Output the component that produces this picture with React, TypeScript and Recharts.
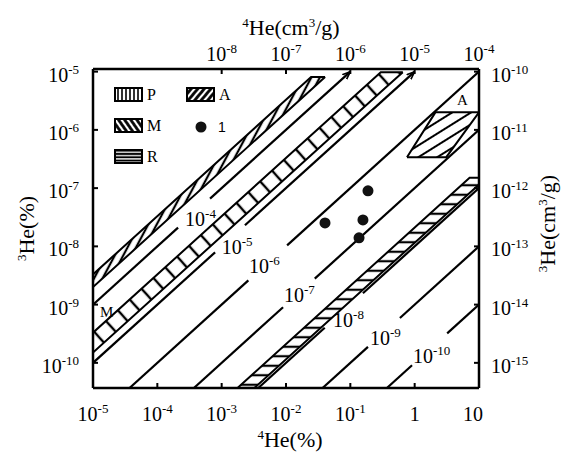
import React from 'react';
import { ComposedChart, XAxis, YAxis, Line, Area, Scatter, Legend } from 'recharts';

const SERIF = "'Liberation Serif', 'Times New Roman', serif";
const SANS = "'Liberation Sans', Arial, sans-serif";

// bottom / left axes: 4He(%) and 3He(%)
const he4Ticks = [1e-5, 1e-4, 1e-3, 1e-2, 1e-1, 1, 10];
const he3Ticks = [1e-10, 1e-9, 1e-8, 1e-7, 1e-6, 1e-5];
const he4Domain = [1e-5, 10];
const he3Domain = [3.7e-11, 1.11e-5];
// top / right axes: same scales in cm3/g
const he4CcTicks = [1e-8, 1e-7, 1e-6, 1e-5, 1e-4];
const he3CcTicks = [1e-15, 1e-14, 1e-13, 1e-12, 1e-11, 1e-10];
const he4CcDomain = [1e-10, 1e-4];
const he3CcDomain = [3.7e-16, 1.11e-10];

// 3He/4He iso-ratio lines, broken where the label sits
const ratios = [1e-4, 1e-5, 1e-6, 1e-7, 1e-8, 1e-9, 1e-10];
const lineStart = [1e-5, 1e-5, 3.7e-5, 3.7e-4, 3.7e-3, 3.7e-2, 0.37];
const gapFrom = [2.1e-4, 7.9e-4, 2.6e-3, 9e-3, 0.04, 0.188, 0.91];
const gapTo = [6.6e-4, 2.3e-3, 0.0104, 0.028, 0.157, 0.59, 3.2];
const lineEnd = [0.1, 1, 10, 10, 10, 10, 10];
const labelX = [2.7e-4, 1.0e-3, 2.66e-3, 9.3e-3, 0.054, 0.202, 0.94];
const labelY = [2.25e-8, 7.4e-9, 3.5e-9, 1.11e-9, 4.15e-10, 2.04e-10, 1e-10];

// hatched fields (ratio limits and where they are cut off)
const bandP = { lo: 2.0e-4, hi: 3.3e-4, cut: 8.1e-6 };
const bandM = { lo: 1.5e-5, hi: 3.3e-5, cut: 9.8e-6 };
const bandR = { lo: 1.15e-8, hi: 2.1e-8, cut: 1.5e-7 };
const fieldAX = [0.76, 2.1, 3.1, 10];
const fieldALow = [3.4e-7, 3.4e-7, 3.4e-7, 2.0e-6];
const fieldAHigh = [3.4e-7, 2.0e-6, 2.0e-6, 2.0e-6];

// samples (1)
const sampleHe4 = [0.0404, 0.1365, 0.157, 0.188];
const sampleHe3 = [2.53e-8, 1.4e-8, 2.85e-8, 8.97e-8];

const fieldNames = ['M', 'A'];
const fieldNameX = [1.28e-5, 4.55];
const fieldNameY = [6.2e-10, 2.69e-6];

const isoLines = ratios.map((r, i) => ({
  exp: Math.round(Math.log10(r)),
  a: [{ x: lineStart[i], y: r * lineStart[i] }, { x: gapFrom[i], y: r * gapFrom[i] }],
  b: [{ x: gapTo[i], y: r * gapTo[i] }, { x: lineEnd[i], y: r * lineEnd[i] }],
}));
const isoLabels = ratios.map((r, i) => ({ x: labelX[i], y: labelY[i], exp: Math.round(Math.log10(r)) }));

function upperBand(b: any, x0: number) {
  const x1 = b.cut / b.hi;
  const x2 = b.cut / b.lo;
  return [
    { x: x0, r: [b.lo * x0, b.hi * x0] },
    { x: x1, r: [b.lo * x1, b.cut] },
    { x: x2, r: [b.cut, b.cut] },
  ];
}
const pData = upperBand(bandP, he4Domain[0]);
const mData = upperBand(bandM, he4Domain[0]);
const y0 = he3Domain[0];
const xMax = he4Domain[1];
const rData = [
  { x: y0 / bandR.hi, r: [y0, y0] },
  { x: y0 / bandR.lo, r: [y0, (bandR.hi * y0) / bandR.lo] },
  { x: bandR.cut / bandR.hi, r: [(bandR.lo * bandR.cut) / bandR.hi, bandR.cut] },
  { x: xMax, r: [bandR.lo * xMax, bandR.cut] },
];
const aData = fieldAX.map((x, i) => ({ x, r: [fieldALow[i], fieldAHigh[i]] }));
const samples = sampleHe4.map((x, i) => ({ x, y: sampleHe3[i] }));
const fieldLabels = fieldNames.map((t, i) => ({ x: fieldNameX[i], y: fieldNameY[i], t }));

function powerLabel(v: number) {
  const e = Math.round(Math.log10(v));
  if (e >= 0) return String(Math.round(v));
  return [
    <tspan key="b">10</tspan>,
    <tspan key="e" dy={-8} fontSize={13}>{e}</tspan>,
  ];
}

const BottomTick = (p: any) => {
  const last = p.payload.value >= 10;
  return (
    <g>
      <line x1={p.x} y1={p.y} x2={p.x} y2={p.y - 5} stroke="#000" strokeWidth={2} />
      <text x={last ? p.x - 6 : p.x} y={p.y + 33} textAnchor="middle" fontFamily={SERIF} fontSize={20} fill="#000">
        {powerLabel(p.payload.value)}
      </text>
    </g>
  );
};
const TopTick = (p: any) => (
  <g>
    <line x1={p.x} y1={p.y} x2={p.x} y2={p.y + 5} stroke="#000" strokeWidth={2} />
    <text x={p.x} y={p.y - 8} textAnchor="middle" fontFamily={SERIF} fontSize={20} fill="#000">
      {powerLabel(p.payload.value)}
    </text>
  </g>
);
const LeftTick = (p: any) => (
  <g>
    <line x1={p.x} y1={p.y} x2={p.x + 5} y2={p.y} stroke="#000" strokeWidth={2} />
    <text x={p.x - 14} y={p.y + 10} textAnchor="end" fontFamily={SERIF} fontSize={20} fill="#000">
      {powerLabel(p.payload.value)}
    </text>
  </g>
);
const RightTick = (p: any) => (
  <g>
    <line x1={p.x} y1={p.y} x2={p.x - 5} y2={p.y} stroke="#000" strokeWidth={2} />
    <text x={p.x + 12} y={p.y + 10} textAnchor="start" fontFamily={SERIF} fontSize={20} fill="#000">
      {powerLabel(p.payload.value)}
    </text>
  </g>
);

const TITLE = 22;
const sup = (s: string) => [
  <tspan key={'s' + s} dy={-8} fontSize={13}>{s}</tspan>,
];

const bottomTitle = (p: any) => {
  const vb = p.viewBox;
  return (
    <text x={vb.x + vb.width / 2 + 4} y={vb.y + 59} textAnchor="middle" fontFamily={SERIF} fontSize={TITLE} fill="#000">
      {sup('4')}
      <tspan dy={8}>He(%)</tspan>
    </text>
  );
};
const topTitle = (p: any) => {
  const vb = p.viewBox;
  return (
    <text x={vb.x + vb.width / 2 + 5} y={vb.y + vb.height - 34} textAnchor="middle" fontFamily={SERIF} fontSize={TITLE} fill="#000">
      {sup('4')}
      <tspan dy={8}>He(cm</tspan>
      <tspan dy={-8} fontSize={13}>3</tspan>
      <tspan dy={8}>/g)</tspan>
    </text>
  );
};
const leftTitle = (p: any) => {
  const vb = p.viewBox;
  const cx = vb.x + vb.width - 59;
  const cy = vb.y + vb.height / 2;
  return (
    <text x={cx} y={cy} transform={`rotate(-90, ${cx}, ${cy})`} textAnchor="middle" fontFamily={SERIF} fontSize={TITLE} fill="#000">
      {sup('3')}
      <tspan dy={8}>He(%)</tspan>
    </text>
  );
};
const rightTitle = (p: any) => {
  const vb = p.viewBox;
  const cx = vb.x + 76;
  const cy = vb.y + vb.height / 2 - 5;
  return (
    <text x={cx} y={cy} transform={`rotate(-90, ${cx}, ${cy})`} textAnchor="middle" fontFamily={SERIF} fontSize={TITLE} fill="#000">
      {sup('3')}
      <tspan dy={8}>He(cm</tspan>
      <tspan dy={-8} fontSize={13}>3</tspan>
      <tspan dy={8}>/g)</tspan>
    </text>
  );
};

const IsoLabel = (p: any) => (
  <text x={p.cx} y={p.cy} fontFamily={SERIF} fontSize={20} fill="#000">
    10<tspan dy={-8} fontSize={13}>{p.payload.exp}</tspan>
  </text>
);
const FieldLabel = (p: any) => (
  <text x={p.cx} y={p.cy} fontFamily={SERIF} fontSize={15} fill="#000">
    {p.payload.t}
  </text>
);
const SampleDot = (p: any) => <circle cx={p.cx} cy={p.cy} r={5.5} fill="#111" />;

const legendSwatches = [
  { name: 'P', fill: 'url(#legP)', x: 7, y: 5 },
  { name: 'M', fill: 'url(#legM)', x: 7, y: 36 },
  { name: 'R', fill: 'url(#legR)', x: 7, y: 67 },
  { name: 'A', fill: 'url(#legA)', x: 79, y: 5 },
];

const LegendBox = () => (
  <svg width={140} height={90} style={{ display: 'block' }}>
    {legendSwatches.map((s) => (
      <g key={s.name}>
        <rect x={s.x} y={s.y} width={27} height={13} fill="#fff" />
        <rect x={s.x} y={s.y} width={27} height={13} fill={s.fill} stroke="#000" strokeWidth={2} />
        <text x={s.x + 32} y={s.y + 12} fontFamily={SERIF} fontSize={16} fill="#000">{s.name}</text>
      </g>
    ))}
    <circle cx={93} cy={44} r={5.5} fill="#111" />
    <text x={110} y={49} fontFamily={SANS} fontSize={14} fill="#000">1</text>
  </svg>
);

const hatch = (id: string, gap: number, angle: number, w: number) => (
  <pattern id={id} width={gap} height={gap} patternUnits="userSpaceOnUse" patternTransform={`rotate(${angle})`}>
    <line x1={gap / 2} y1={0} x2={gap / 2} y2={gap} stroke="#000" strokeWidth={w} />
  </pattern>
);

const frame = { stroke: '#000', strokeWidth: 2.5 };

export default function App() {
  return (
    <div style={{ position: 'absolute', left: 0, top: 0, background: '#fff' }}>
      <svg width={0} height={0} style={{ position: 'absolute' }}>
        <defs>
          {hatch('patP', 7.5, 28, 2.2)}
          {hatch('patM', 16, -42, 2.4)}
          {hatch('patR', 9.5, 90, 2.2)}
          {hatch('patA', 10, 58, 2)}
          {hatch('legP', 4, 0, 1.6)}
          {hatch('legM', 5, -35, 2.8)}
          {hatch('legR', 3.3, 90, 2)}
          {hatch('legA', 5, 40, 2.8)}
          <marker id="arrowHead" viewBox="0 0 10 10" refX="10" refY="5" markerWidth="8" markerHeight="8" markerUnits="userSpaceOnUse" orient="auto">
            <path d="M0,1 L10,5 L0,9" fill="none" stroke="#000" strokeWidth="2" />
          </marker>
        </defs>
      </svg>
      <ComposedChart width={562} height={453} data={samples} margin={{ top: 68, right: 82, bottom: 64, left: 92 }}>
        <XAxis xAxisId="b" dataKey="x" type="number" scale="log" domain={he4Domain} allowDataOverflow
          ticks={he4Ticks} interval={0} height={1} tickLine={false} tickSize={0} tickMargin={0}
          axisLine={frame} tick={BottomTick} label={bottomTitle} />
        <XAxis xAxisId="t" dataKey="x" orientation="top" type="number" scale="log" domain={he4CcDomain} allowDataOverflow
          ticks={he4CcTicks} interval={0} height={1} tickLine={false} tickSize={0} tickMargin={0}
          axisLine={frame} tick={TopTick} label={topTitle} />
        <YAxis yAxisId="l" dataKey="y" type="number" scale="log" domain={he3Domain} allowDataOverflow
          ticks={he3Ticks} interval={0} width={1} tickLine={false} tickSize={0} tickMargin={0}
          axisLine={frame} tick={LeftTick} label={leftTitle} />
        <YAxis yAxisId="r" dataKey="y" orientation="right" type="number" scale="log" domain={he3CcDomain} allowDataOverflow
          ticks={he3CcTicks} interval={0} width={1} tickLine={false} tickSize={0} tickMargin={0}
          axisLine={frame} tick={RightTick} label={rightTitle} />

        <Area xAxisId="b" yAxisId="l" data={pData} dataKey="r" type="linear" stroke="#000" strokeWidth={2}
          fill="url(#patP)" fillOpacity={1} dot={false} activeDot={false} isAnimationActive={false} />
        <Area xAxisId="b" yAxisId="l" data={mData} dataKey="r" type="linear" stroke="#000" strokeWidth={2}
          fill="url(#patM)" fillOpacity={1} dot={false} activeDot={false} isAnimationActive={false} />
        <Area xAxisId="b" yAxisId="l" data={rData} dataKey="r" type="linear" stroke="#000" strokeWidth={2}
          fill="url(#patR)" fillOpacity={1} dot={false} activeDot={false} isAnimationActive={false} />
        <Area xAxisId="b" yAxisId="l" data={aData} dataKey="r" type="linear" stroke="#000" strokeWidth={2}
          fill="url(#patA)" fillOpacity={1} dot={false} activeDot={false} isAnimationActive={false} />

        {isoLines.map((l) => (
          <Line key={'a' + l.exp} xAxisId="b" yAxisId="l" data={l.a} dataKey="y" type="linear"
            stroke="#000" strokeWidth={2.2} dot={false} activeDot={false} isAnimationActive={false} />
        ))}
        {isoLines.map((l) => (
          <Line key={'b' + l.exp} xAxisId="b" yAxisId="l" data={l.b} dataKey="y" type="linear"
            stroke="#000" strokeWidth={2.2} dot={false} activeDot={false} isAnimationActive={false}
            markerEnd={l.exp >= -5 ? 'url(#arrowHead)' : undefined} />
        ))}

        <Scatter xAxisId="b" yAxisId="l" data={samples} dataKey="y" shape={SampleDot} isAnimationActive={false} />
        <Scatter xAxisId="b" yAxisId="l" data={isoLabels} dataKey="y" shape={IsoLabel} isAnimationActive={false} />
        <Scatter xAxisId="b" yAxisId="l" data={fieldLabels} dataKey="y" shape={FieldLabel} isAnimationActive={false} />

        <Legend layout="vertical" align="center" verticalAlign="middle" content={() => <LegendBox />}
          wrapperStyle={{ left: 108, top: 83, width: 140, height: 90 }} />
      </ComposedChart>
    </div>
  );
}
